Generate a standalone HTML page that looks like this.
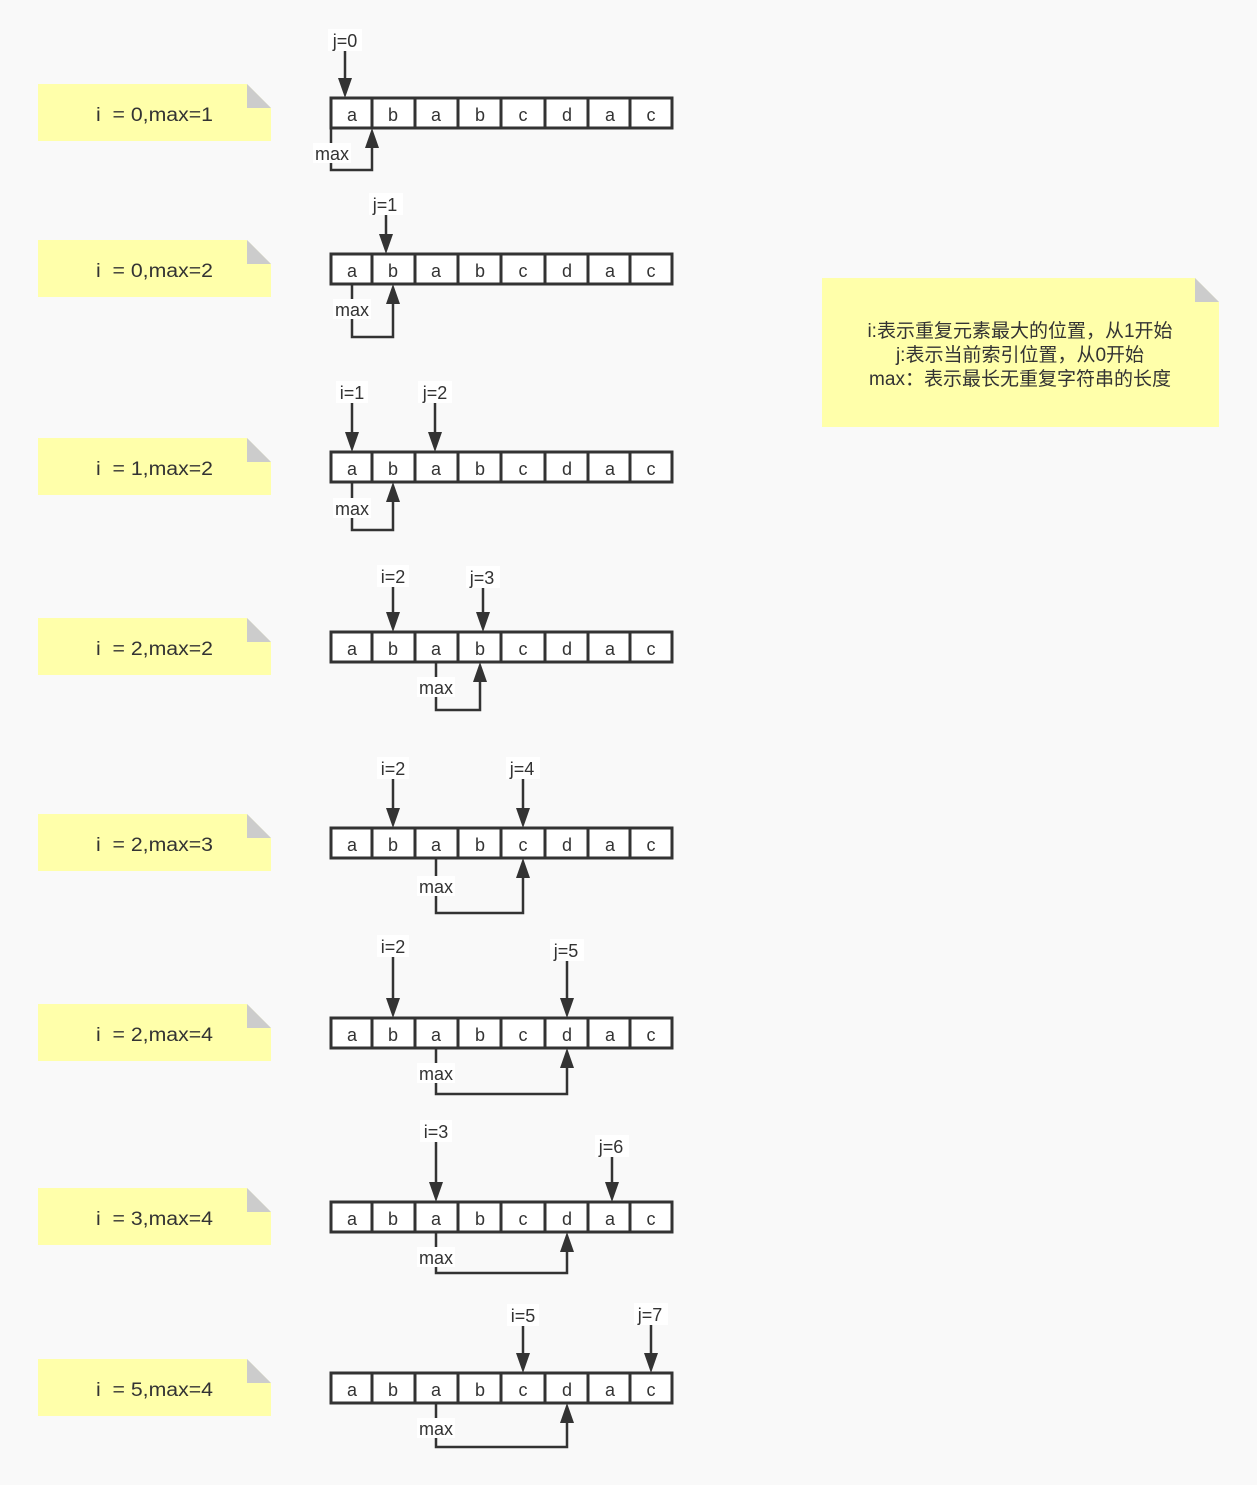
<!DOCTYPE html>
<html><head><meta charset="utf-8"><style>
html,body{margin:0;padding:0;background:#f9f9f9}
svg{display:block}
text{font-family:"Liberation Sans","Noto Sans CJK SC",sans-serif;font-size:18px;fill:#333;white-space:pre}
.c{fill:#fff;stroke:#333;stroke-width:3}
.l{stroke:#333;stroke-width:2.5;fill:none}
.h{fill:#333}
.n{fill:#ffffaa}
.f{fill:#cccccc}
.lb{fill:#fff}
.nt{font-size:19px}
.bn{font-size:19px}
</style></head><body>
<svg width="1257" height="1485" viewBox="0 0 1257 1485" xmlns="http://www.w3.org/2000/svg" xml:space="preserve">
<g>
<path class="n" d="M38 84H247L271 108V141H38Z"/><path class="f" d="M247 84V108H271Z"/>
<text class="nt" x="96" y="121" textLength="117" lengthAdjust="spacingAndGlyphs">i  = 0,max=1</text>
<path class="n" d="M38 240H247L271 264V297H38Z"/><path class="f" d="M247 240V264H271Z"/>
<text class="nt" x="96" y="277" textLength="117" lengthAdjust="spacingAndGlyphs">i  = 0,max=2</text>
<path class="n" d="M38 438H247L271 462V495H38Z"/><path class="f" d="M247 438V462H271Z"/>
<text class="nt" x="96" y="475" textLength="117" lengthAdjust="spacingAndGlyphs">i  = 1,max=2</text>
<path class="n" d="M38 618H247L271 642V675H38Z"/><path class="f" d="M247 618V642H271Z"/>
<text class="nt" x="96" y="655" textLength="117" lengthAdjust="spacingAndGlyphs">i  = 2,max=2</text>
<path class="n" d="M38 814H247L271 838V871H38Z"/><path class="f" d="M247 814V838H271Z"/>
<text class="nt" x="96" y="851" textLength="117" lengthAdjust="spacingAndGlyphs">i  = 2,max=3</text>
<path class="n" d="M38 1004H247L271 1028V1061H38Z"/><path class="f" d="M247 1004V1028H271Z"/>
<text class="nt" x="96" y="1041" textLength="117" lengthAdjust="spacingAndGlyphs">i  = 2,max=4</text>
<path class="n" d="M38 1188H247L271 1212V1245H38Z"/><path class="f" d="M247 1188V1212H271Z"/>
<text class="nt" x="96" y="1225" textLength="117" lengthAdjust="spacingAndGlyphs">i  = 3,max=4</text>
<path class="n" d="M38 1359H247L271 1383V1416H38Z"/><path class="f" d="M247 1359V1383H271Z"/>
<text class="nt" x="96" y="1396" textLength="117" lengthAdjust="spacingAndGlyphs">i  = 5,max=4</text>
<path class="n" d="M822 278H1195L1219 302V427H822Z"/><path class="f" d="M1195 278V302H1219Z"/>
<text class="bn" x="1020" y="337" text-anchor="middle">i:表示重复元素最大的位置，从1开始</text>
<text class="bn" x="1020" y="361" text-anchor="middle">j:表示当前索引位置，从0开始</text>
<text class="bn" x="1020" y="385" text-anchor="middle">max：表示最长无重复字符串的长度</text>
</g>

<g>
<rect class="c" x="331" y="98" width="341" height="30"/>
<path class="l" style="stroke-width:3" d="M372 98V128M415 98V128M458 98V128M501 98V128M545 98V128M588 98V128M630 98V128"/>
<text y="121" x="352 393 436 480 523 567 610 651" text-anchor="middle">ababcdac</text>
<path class="l" d="M345 50V80"/><polygon class="h" points="338,78 352,78 345,98"/>
<rect class="lb" x="328" y="29" width="34" height="22"/><text x="345" y="47" text-anchor="middle">j=0</text>
<path class="l" d="M331 128V170H372V146"/><polygon class="h" points="365,148 379,148 372,128"/>
<rect class="lb" x="313" y="143" width="38" height="20"/><text x="332" y="160" text-anchor="middle">max</text>
</g>

<g>
<rect class="c" x="331" y="254" width="341" height="30"/>
<path class="l" style="stroke-width:3" d="M372 254V284M415 254V284M458 254V284M501 254V284M545 254V284M588 254V284M630 254V284"/>
<text y="277" x="352 393 436 480 523 567 610 651" text-anchor="middle">ababcdac</text>
<path class="l" d="M386 214V236"/><polygon class="h" points="379,234 393,234 386,254"/>
<rect class="lb" x="369" y="193" width="34" height="22"/><text x="385" y="211" text-anchor="middle">j=1</text>
<path class="l" d="M352 284V337H393V302"/><polygon class="h" points="386,304 400,304 393,284"/>
<rect class="lb" x="333" y="299" width="38" height="20"/><text x="352" y="316" text-anchor="middle">max</text>
</g>

<g>
<rect class="c" x="331" y="452" width="341" height="30"/>
<path class="l" style="stroke-width:3" d="M372 452V482M415 452V482M458 452V482M501 452V482M545 452V482M588 452V482M630 452V482"/>
<text y="475" x="352 393 436 480 523 567 610 651" text-anchor="middle">ababcdac</text>
<path class="l" d="M352 402V434"/><polygon class="h" points="345,432 359,432 352,452"/>
<rect class="lb" x="336" y="381" width="32" height="22"/><text x="352" y="399" text-anchor="middle">i=1</text>
<path class="l" d="M435 402V434"/><polygon class="h" points="428,432 442,432 435,452"/>
<rect class="lb" x="418" y="381" width="34" height="22"/><text x="435" y="399" text-anchor="middle">j=2</text>
<path class="l" d="M352 482V530H393V500"/><polygon class="h" points="386,502 400,502 393,482"/>
<rect class="lb" x="333" y="498" width="38" height="20"/><text x="352" y="515" text-anchor="middle">max</text>
</g>

<g>
<rect class="c" x="331" y="632" width="341" height="30"/>
<path class="l" style="stroke-width:3" d="M372 632V662M415 632V662M458 632V662M501 632V662M545 632V662M588 632V662M630 632V662"/>
<text y="655" x="352 393 436 480 523 567 610 651" text-anchor="middle">ababcdac</text>
<path class="l" d="M393 586V614"/><polygon class="h" points="386,612 400,612 393,632"/>
<rect class="lb" x="377" y="565" width="32" height="22"/><text x="393" y="583" text-anchor="middle">i=2</text>
<path class="l" d="M483 587V614"/><polygon class="h" points="476,612 490,612 483,632"/>
<rect class="lb" x="466" y="566" width="34" height="22"/><text x="482" y="584" text-anchor="middle">j=3</text>
<path class="l" d="M436 662V710H480V680"/><polygon class="h" points="473,682 487,682 480,662"/>
<rect class="lb" x="417" y="677" width="38" height="20"/><text x="436" y="694" text-anchor="middle">max</text>
</g>

<g>
<rect class="c" x="331" y="828" width="341" height="30"/>
<path class="l" style="stroke-width:3" d="M372 828V858M415 828V858M458 828V858M501 828V858M545 828V858M588 828V858M630 828V858"/>
<text y="851" x="352 393 436 480 523 567 610 651" text-anchor="middle">ababcdac</text>
<path class="l" d="M393 778V810"/><polygon class="h" points="386,808 400,808 393,828"/>
<rect class="lb" x="377" y="757" width="32" height="22"/><text x="393" y="775" text-anchor="middle">i=2</text>
<path class="l" d="M523 778V810"/><polygon class="h" points="516,808 530,808 523,828"/>
<rect class="lb" x="506" y="757" width="34" height="22"/><text x="522" y="775" text-anchor="middle">j=4</text>
<path class="l" d="M436 858V913H523V876"/><polygon class="h" points="516,878 530,878 523,858"/>
<rect class="lb" x="417" y="876" width="38" height="20"/><text x="436" y="893" text-anchor="middle">max</text>
</g>

<g>
<rect class="c" x="331" y="1018" width="341" height="30"/>
<path class="l" style="stroke-width:3" d="M372 1018V1048M415 1018V1048M458 1018V1048M501 1018V1048M545 1018V1048M588 1018V1048M630 1018V1048"/>
<text y="1041" x="352 393 436 480 523 567 610 651" text-anchor="middle">ababcdac</text>
<path class="l" d="M393 956V1000"/><polygon class="h" points="386,998 400,998 393,1018"/>
<rect class="lb" x="377" y="935" width="32" height="22"/><text x="393" y="953" text-anchor="middle">i=2</text>
<path class="l" d="M567 960V1000"/><polygon class="h" points="560,998 574,998 567,1018"/>
<rect class="lb" x="550" y="939" width="34" height="22"/><text x="566" y="957" text-anchor="middle">j=5</text>
<path class="l" d="M436 1048V1094H567V1066"/><polygon class="h" points="560,1068 574,1068 567,1048"/>
<rect class="lb" x="417" y="1063" width="38" height="20"/><text x="436" y="1080" text-anchor="middle">max</text>
</g>

<g>
<rect class="c" x="331" y="1202" width="341" height="30"/>
<path class="l" style="stroke-width:3" d="M372 1202V1232M415 1202V1232M458 1202V1232M501 1202V1232M545 1202V1232M588 1202V1232M630 1202V1232"/>
<text y="1225" x="352 393 436 480 523 567 610 651" text-anchor="middle">ababcdac</text>
<path class="l" d="M436 1141V1184"/><polygon class="h" points="429,1182 443,1182 436,1202"/>
<rect class="lb" x="420" y="1120" width="32" height="22"/><text x="436" y="1138" text-anchor="middle">i=3</text>
<path class="l" d="M612 1156V1184"/><polygon class="h" points="605,1182 619,1182 612,1202"/>
<rect class="lb" x="595" y="1135" width="34" height="22"/><text x="611" y="1153" text-anchor="middle">j=6</text>
<path class="l" d="M436 1232V1273H567V1250"/><polygon class="h" points="560,1252 574,1252 567,1232"/>
<rect class="lb" x="417" y="1247" width="38" height="20"/><text x="436" y="1264" text-anchor="middle">max</text>
</g>

<g>
<rect class="c" x="331" y="1373" width="341" height="30"/>
<path class="l" style="stroke-width:3" d="M372 1373V1403M415 1373V1403M458 1373V1403M501 1373V1403M545 1373V1403M588 1373V1403M630 1373V1403"/>
<text y="1396" x="352 393 436 480 523 567 610 651" text-anchor="middle">ababcdac</text>
<path class="l" d="M523 1325V1355"/><polygon class="h" points="516,1353 530,1353 523,1373"/>
<rect class="lb" x="507" y="1304" width="32" height="22"/><text x="523" y="1322" text-anchor="middle">i=5</text>
<path class="l" d="M651 1324V1355"/><polygon class="h" points="644,1353 658,1353 651,1373"/>
<rect class="lb" x="634" y="1303" width="34" height="22"/><text x="650" y="1321" text-anchor="middle">j=7</text>
<path class="l" d="M436 1403V1447H567V1421"/><polygon class="h" points="560,1423 574,1423 567,1403"/>
<rect class="lb" x="417" y="1418" width="38" height="20"/><text x="436" y="1435" text-anchor="middle">max</text>
</g>
</svg>
</body></html>
